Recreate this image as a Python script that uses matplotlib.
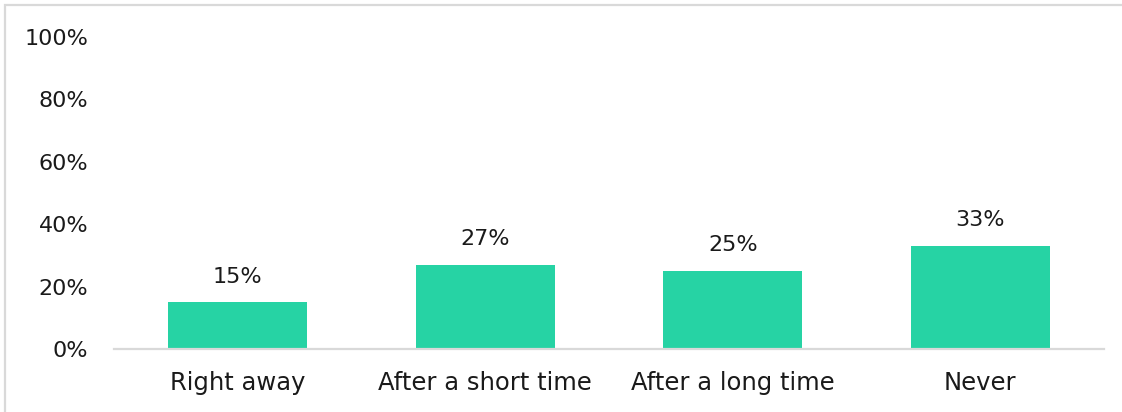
import matplotlib
matplotlib.use("Agg")
import matplotlib.pyplot as plt
from matplotlib.patches import Rectangle
from matplotlib.ticker import FixedLocator

categories = ["Right away", "After a short time", "After a long time", "Never"]
shares = [15, 27, 25, 33]
y_ticks = [0, 20, 40, 60, 80, 100]
y_tick_labels = ["0%", "20%", "40%", "60%", "80%", "100%"]

W, H = 1122, 412
fig = plt.figure(figsize=(W / 100, H / 100), dpi=100)
plt.rcParams["font.family"] = ["DejaVu Sans"]

ax = fig.add_axes([114 / W, (H - 349) / H, (1104 - 114) / W, (349 - 37) / H])

bar_color = "#26D3A4"
text_color = "#1a1a1a"
x = list(range(len(categories)))
ax.bar(x, shares, width=0.56, color=bar_color, zorder=2)

for xi, v in zip(x, shares):
    ax.text(xi, v + 5.0, f"{v}%", ha="center", va="bottom", fontsize=16, color=text_color)

ax.set_xlim(-0.5, len(categories) - 0.5)
ax.set_ylim(0, 100)
ax.yaxis.set_major_locator(FixedLocator(y_ticks))
ax.set_yticklabels(y_tick_labels, fontsize=16, color=text_color)
ax.set_xticks(x)
ax.set_xticklabels(categories, fontsize=17.5, color=text_color)
ax.tick_params(axis="y", length=0, pad=18.5)
ax.tick_params(axis="x", length=0, pad=16)

for side in ["top", "right", "left"]:
    ax.spines[side].set_visible(False)
ax.spines["bottom"].set_color("#D9D9D9")
ax.spines["bottom"].set_linewidth(1.6)
ax.spines["bottom"].set_zorder(3)

# outer frame around the chart area
frame = Rectangle((5 / W, -0.1), 1.2, (H - 5) / H + 0.1, transform=fig.transFigure,
                  fill=False, edgecolor="#D9D9D9", linewidth=1.6, clip_on=False)
fig.patches.append(frame)

fig.savefig("out.png", dpi=100, facecolor="white")
